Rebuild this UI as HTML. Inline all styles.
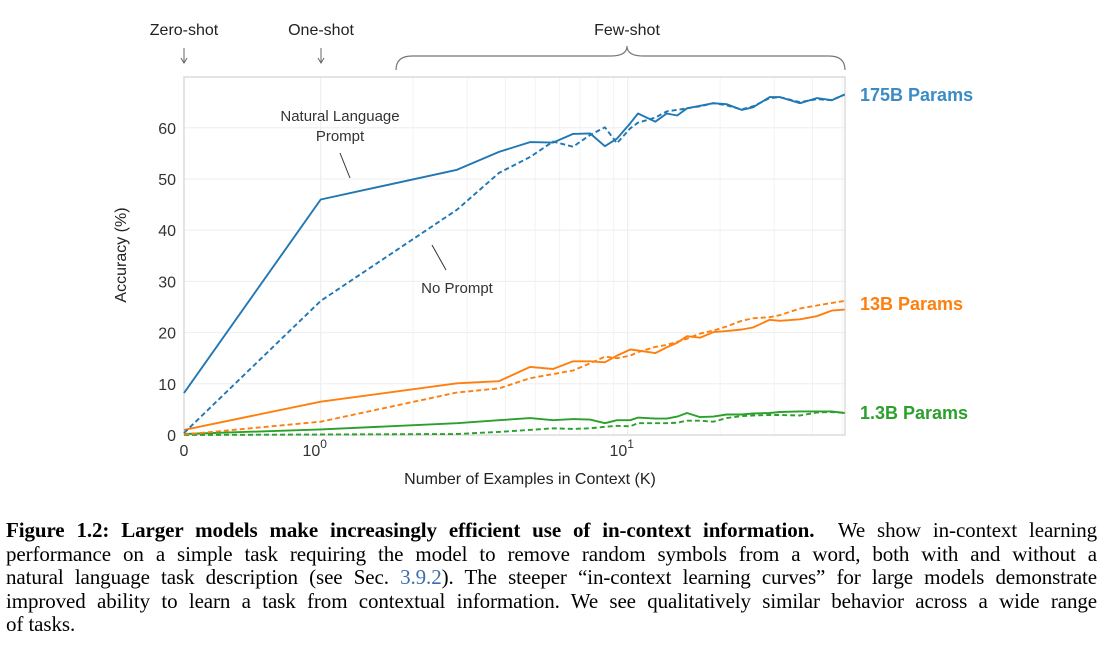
<!DOCTYPE html>
<html><head><meta charset="utf-8"><style>
body{margin:0;background:#fff;width:1104px;height:649px;overflow:hidden;position:relative}
.cap{position:absolute;left:6px;width:1091px;font-family:"Liberation Serif",serif;font-size:21px;color:#000;white-space:nowrap;line-height:24px;letter-spacing:-0.1px}
.just{text-align:justify;text-align-last:justify;white-space:normal}
</style></head><body>
<svg id="chart" width="1104" height="500" style="position:absolute;left:0;top:0" font-family="Liberation Sans, sans-serif"></svg>
<div class="cap just" style="top:518px"><b>Figure 1.2: Larger models make increasingly efficient use of in-context information.</b>&nbsp; We show in-context learning</div>
<div class="cap just" style="top:542px">performance on a simple task requiring the model to remove random symbols from a word, both with and without a</div>
<div class="cap just" style="top:565px">natural language task description (see Sec. <span style="color:#3a6fb0">3.9.2</span>). The steeper “in-context learning curves” for large models demonstrate</div>
<div class="cap just" style="top:589px">improved ability to learn a task from contextual information. We see qualitatively similar behavior across a wide range</div>
<div class="cap" style="top:612px">of tasks.</div>
<script>
const kValues=[0,1,2.78,3.81,4.81,5.71,6.64,7.54,8.43,9.23,10.2,10.8,12.3,13.4,14.5,15.6,17.2,19.0,21.0,23.5,25.6,29.0,31.3,36.4,41.3,46.2,50.9];
const blue175Prompt=[8.2,46,51.8,55.3,57.2,57.1,58.8,58.9,56.4,57.9,60.9,62.8,61.2,62.8,62.4,63.8,64.3,64.8,64.6,63.5,64.0,66.0,66.0,64.8,65.8,65.4,66.5];
const blue175NoPrompt=[0.4,26.2,44,51.2,54.3,57.3,56.3,58.6,60.1,57.0,59.9,61.0,62.0,63.2,63.5,63.8,64.2,64.8,64.4,63.6,64.2,65.8,66.0,65.0,65.6,65.4,66.5];
const orange13Prompt=[1.0,6.5,10.1,10.5,13.3,12.9,14.4,14.4,14.2,15.5,16.7,16.5,16.0,17.1,18.0,19.3,19.0,20.1,20.3,20.6,21.0,22.5,22.3,22.6,23.2,24.3,24.5];
const orange13NoPrompt=[0.1,2.6,8.3,9.1,11.1,11.9,12.6,14.0,15.3,15.0,15.5,16.2,17.2,17.6,18.2,18.8,19.8,20.4,21.2,22.3,22.8,23.0,23.4,24.7,25.3,25.8,26.2];
const green13Prompt=[0.2,1.1,2.3,2.9,3.3,2.9,3.1,3.0,2.3,2.9,2.9,3.4,3.2,3.2,3.6,4.3,3.5,3.6,4.0,4.0,4.2,4.3,4.5,4.6,4.6,4.6,4.3];
const green13NoPrompt=[0,0.1,0.2,0.6,1.0,1.3,1.2,1.3,1.6,1.8,1.7,2.3,2.3,2.3,2.4,2.8,2.8,2.6,3.3,3.7,3.8,3.9,3.9,3.8,4.4,4.5,4.3];
const yTicks=[0,10,20,30,40,50,60];

const NS="http://www.w3.org/2000/svg";
const svg=document.getElementById('chart');
const X0=184,X1=845,Y0=435,YTOP=77;
function xs(k){return k<=1?X0+136.7*k:320.7+Math.log10(k)*307;}
function ys(v){return Y0-v*5.12;}
function mk(tag,attrs,parent){const e=document.createElementNS(NS,tag);for(const a in attrs)e.setAttribute(a,attrs[a]);(parent||svg).appendChild(e);return e;}
function txt(x,y,s,attrs){const t=mk('text',Object.assign({x:x,y:y},attrs));t.textContent=s;return t;}

for(let d=0;d<2;d++)for(let m=2;m<=9;m++){const k=m*Math.pow(10,d);if(xs(k)>X1)break;
 const g=mk('line',{x1:xs(k),x2:xs(k),y1:YTOP,y2:Y0,stroke:'#f3f3f3','stroke-width':1});
 
 }
[1,10].forEach(k=>{const g=mk('line',{x1:xs(k),x2:xs(k),y1:YTOP,y2:Y0,stroke:'#ebebeb','stroke-width':1});
 
 });
yTicks.forEach(v=>{const g=mk('line',{x1:X0,x2:X1,y1:ys(v),y2:ys(v),stroke:'#eeeeee','stroke-width':1});
 
 
 const t=txt(176,ys(v)+6,String(v),{'font-size':16,fill:'#333','text-anchor':'end'});
 
 });
const fr=mk('rect',{x:X0,y:YTOP,width:X1-X0,height:Y0-YTOP,fill:'none',stroke:'#dcdcdc','stroke-width':1.5});



let t=txt(184,456,'0',{'font-size':16,fill:'#333','text-anchor':'middle'});


[[1,'0'],[10,'1']].forEach(p=>{const g=mk('text',{x:xs(p[0])-6,y:456,'font-size':16,fill:'#333','text-anchor':'middle'});
 
 
 g.textContent='10';const s=mk('tspan',{dy:-8,'font-size':12},g);s.textContent=p[1];});

function series(vals,color,dash,name){const d=vals.map((v,i)=>(i?'L':'M')+xs(kValues[i]).toFixed(1)+','+ys(v).toFixed(1)).join('');
 const p=mk('path',{d:d,fill:'none',stroke:color,'stroke-width':1.9,'stroke-dasharray':dash,'stroke-linejoin':'round'});
 
 }
series(green13NoPrompt,'#2ca02c','5,3','line-1-3b-no-prompt');
series(green13Prompt,'#2ca02c','none','line-1-3b-prompt');
series(orange13NoPrompt,'#ff7f0e','5,3','line-13b-no-prompt');
series(orange13Prompt,'#ff7f0e','none','line-13b-prompt');
series(blue175NoPrompt,'#1f77b4','5,3','line-175b-no-prompt');
series(blue175Prompt,'#1f77b4','none','line-175b-prompt');

t=txt(530,484,'Number of Examples in Context  (K)',{'font-size':16,fill:'#222','text-anchor':'middle'});


t=txt(0,0,'Accuracy (%)',{'font-size':16,fill:'#222','text-anchor':'middle',transform:'translate(126,255) rotate(-90)'});


t=txt(340,121,'Natural Language',{'font-size':15,fill:'#333','text-anchor':'middle'});


t=txt(340,141,'Prompt',{'font-size':15,fill:'#333','text-anchor':'middle'});


mk('line',{x1:340,y1:153,x2:350,y2:178,stroke:'#333','stroke-width':1});
t=txt(457,293,'No Prompt',{'font-size':15,fill:'#333','text-anchor':'middle'});


mk('line',{x1:432,y1:245,x2:446,y2:270,stroke:'#333','stroke-width':1});
[['175B Params',101,'#3a8cc6','label-175b'],['13B Params',310,'#ff7f0e','label-13b'],['1.3B Params',419,'#2ca02c','label-1-3b']].forEach(a=>{
 const e=txt(860,a[1],a[0],{'font-size':18,'font-weight':'bold',fill:a[2]});
 
 });
[['Zero-shot',184,'zero-shot-label'],['One-shot',321,'one-shot-label'],['Few-shot',627,'few-shot-label']].forEach(a=>{
 const e=txt(a[1],35,a[0],{'font-size':16,fill:'#222','text-anchor':'middle'});
 
 });
[184,321].forEach(x=>{mk('line',{x1:x,y1:48,x2:x,y2:62,stroke:'#666','stroke-width':1});
 mk('path',{d:`M${x-3},58L${x},63L${x+3},58`,fill:'none',stroke:'#666','stroke-width':1});});
const br=mk('path',{d:'M396,70Q396,56 412,56L611,56Q627,56 627,46Q627,56 643,56L829,56Q845,56 845,70',fill:'none',stroke:'#777','stroke-width':1.2});


</script>
</body></html>
